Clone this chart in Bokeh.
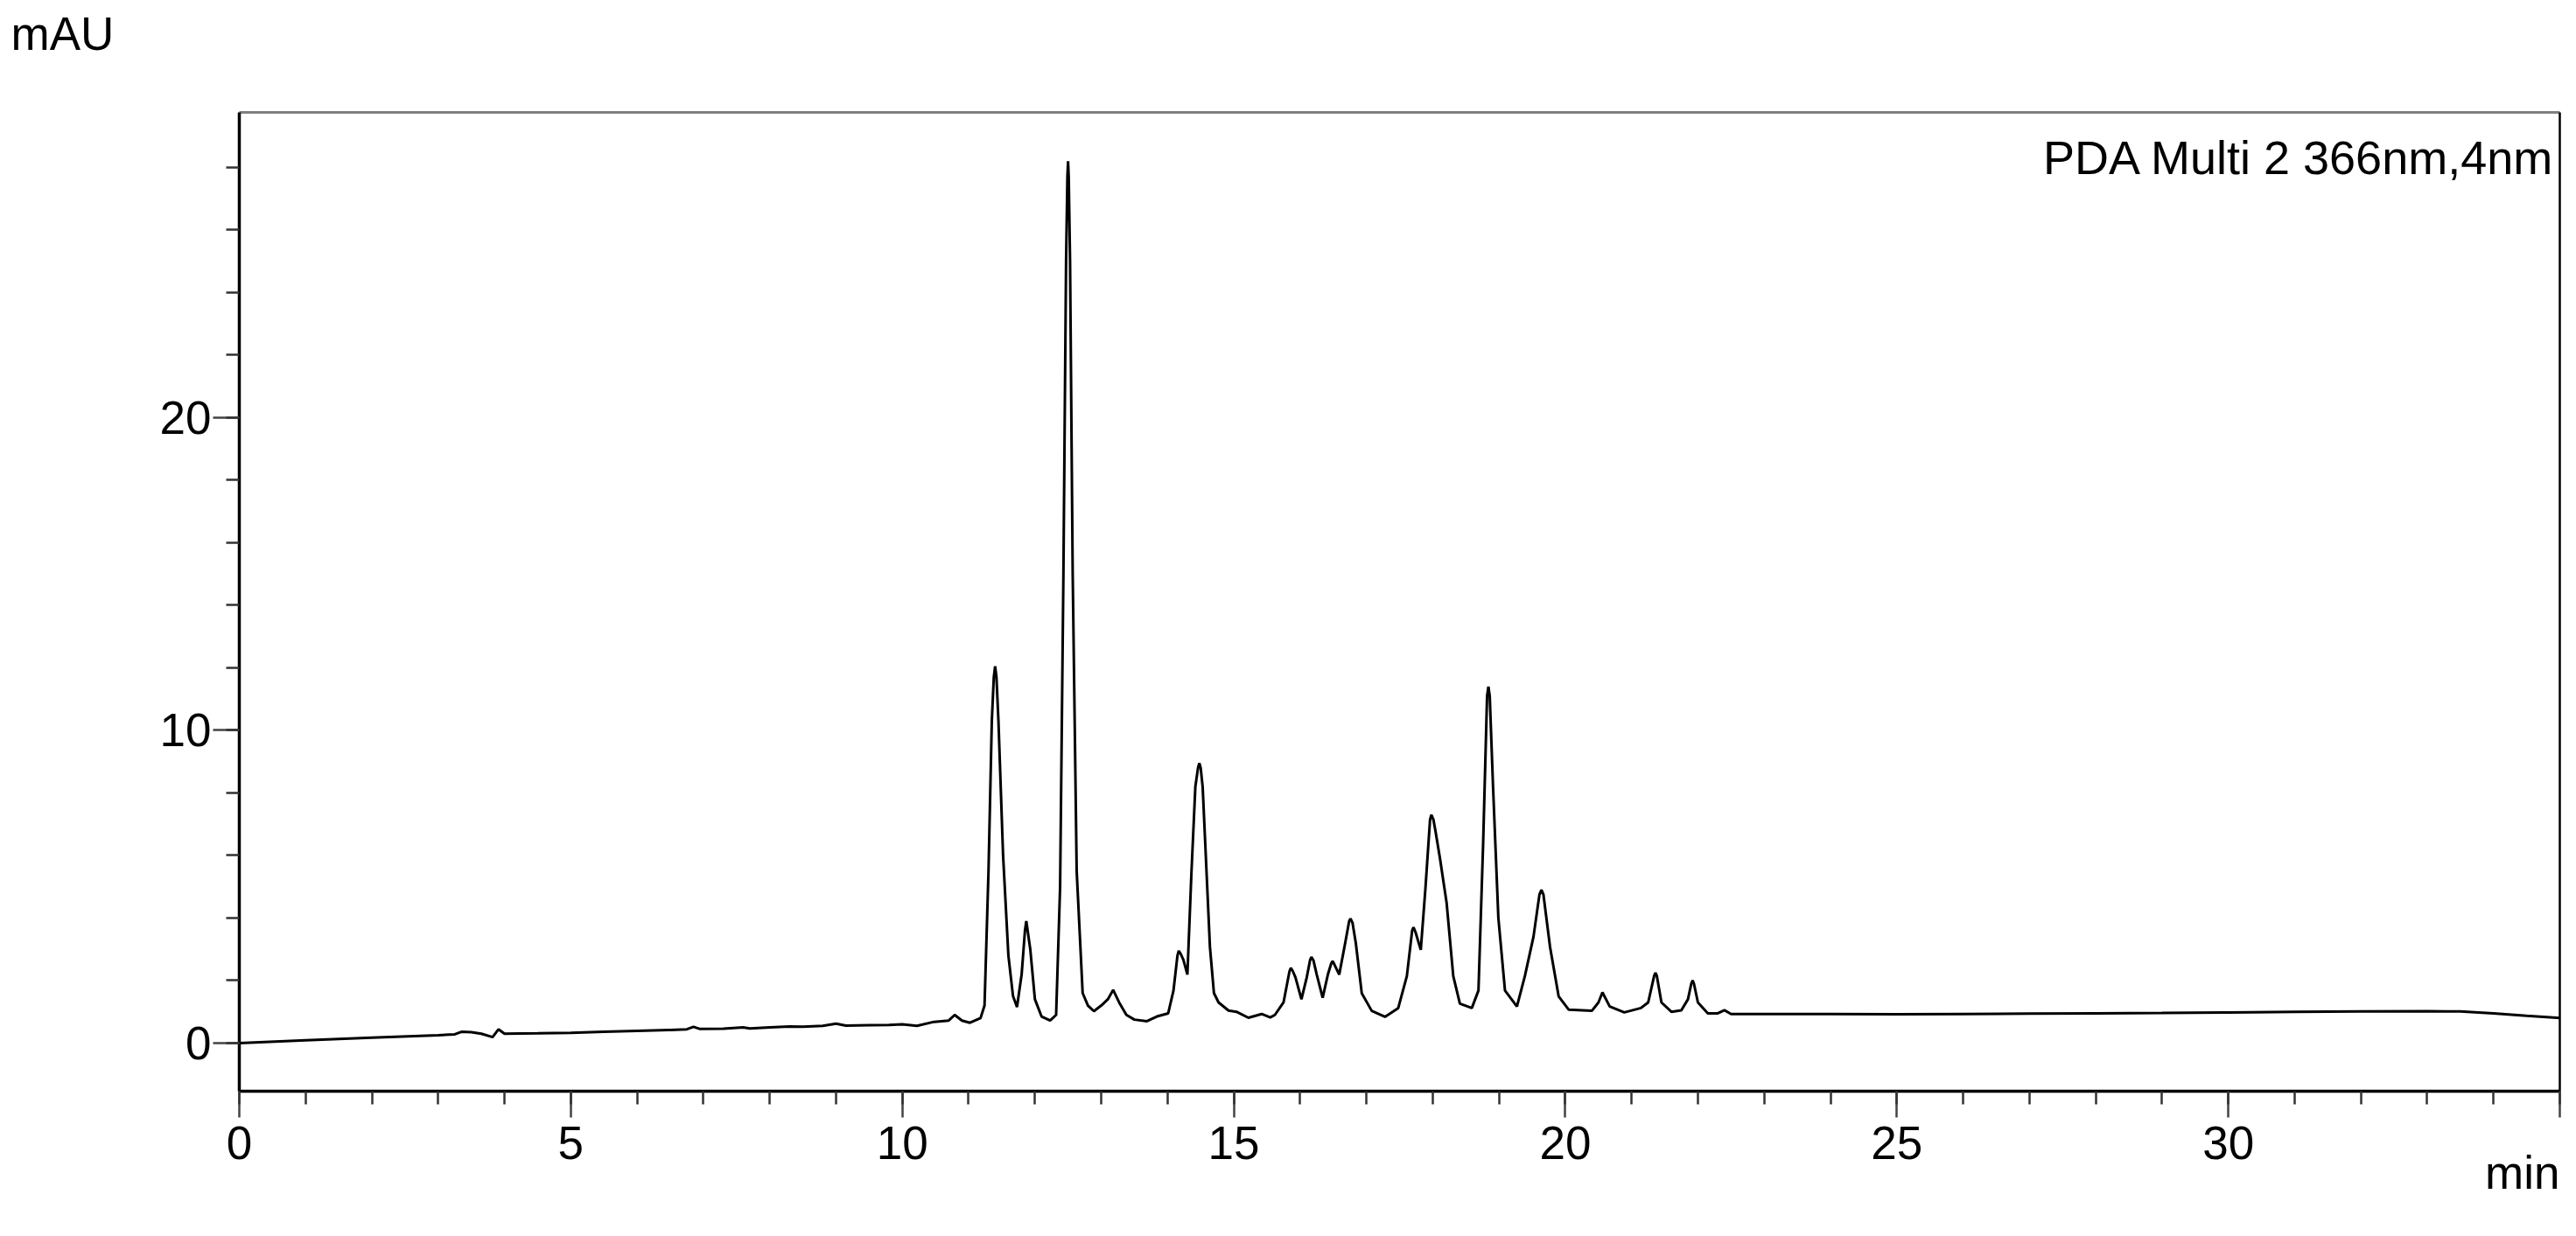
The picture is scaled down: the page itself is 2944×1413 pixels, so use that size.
from bokeh.plotting import figure
from bokeh.models import Label, LinearAxis, FixedTicker, Range1d, Title
from bokeh.embed import file_html
from bokeh.resources import INLINE

# digitized chromatogram (time in min, absorbance in mAU)
time_min = [
    0.0, 1.0, 2.0, 3.0, 3.25, 3.35, 3.5, 3.65, 3.82, 3.91, 4.0, 4.5, 5.0, 5.5, 6.0, 6.5,
    6.75, 6.85, 6.95, 7.3, 7.6, 7.7, 8.0, 8.3, 8.5, 8.8, 9.0, 9.15, 9.5, 9.8, 10.0,
    10.22, 10.48, 10.7, 10.79, 10.9, 11.02, 11.18, 11.24, 11.3, 11.35, 11.38, 11.40, 11.42,
    11.45, 11.52, 11.6, 11.67, 11.73, 11.8, 11.85, 11.87, 11.89, 11.93, 12.0, 12.1, 12.23,
    12.32, 12.38, 12.43, 12.47, 12.49, 12.50, 12.51, 12.53, 12.57, 12.63, 12.72, 12.8,
    12.89, 13.0, 13.1, 13.18, 13.27, 13.38, 13.5, 13.69, 13.84, 14.01, 14.09, 14.15,
    14.17, 14.20, 14.24, 14.30, 14.36, 14.42, 14.46, 14.48, 14.50, 14.53, 14.57, 14.64,
    14.70, 14.77, 14.92, 15.04, 15.22, 15.42, 15.55, 15.62, 15.75, 15.84, 15.86, 15.89,
    15.93, 16.02, 16.10, 16.15, 16.17, 16.20, 16.25, 16.34, 16.42, 16.47, 16.49, 16.52,
    16.59, 16.68, 16.74, 16.76, 16.79, 16.84, 16.93, 17.08, 17.28, 17.48, 17.61, 17.69,
    17.71, 17.74, 17.82, 17.89, 17.96, 17.98, 18.01, 18.04, 18.11, 18.21, 18.31, 18.41,
    18.59, 18.69, 18.76, 18.82, 18.84, 18.86, 18.91, 18.99, 19.09, 19.27, 19.39, 19.52,
    19.61, 19.64, 19.67, 19.77, 19.90, 20.05, 20.40, 20.50, 20.56, 20.67, 20.89, 21.14,
    21.25, 21.34, 21.36, 21.38, 21.45, 21.6, 21.75, 21.85, 21.90, 21.92, 21.94, 22.0,
    22.15, 22.3, 22.4, 22.5, 23.0, 24.0, 25.0, 26.0, 27.0, 28.0, 29.0, 30.0, 31.0, 32.0,
    33.0, 33.5, 34.0, 34.5, 35.0,
]
absorbance_mau = [
    0.00, 0.09, 0.17, 0.25, 0.28, 0.36, 0.35, 0.30, 0.19, 0.44, 0.30, 0.31, 0.33, 0.36, 0.39, 0.42,
    0.44, 0.52, 0.45, 0.46, 0.50, 0.47, 0.50, 0.53, 0.52, 0.55, 0.62, 0.56, 0.57, 0.58, 0.60,
    0.55, 0.68, 0.72, 0.90, 0.72, 0.65, 0.80, 1.2, 5.5, 10.3, 11.7, 12.05, 11.7,
    10.3, 6.0, 2.8, 1.5, 1.15, 2.2, 3.6, 3.9, 3.6, 3.0, 1.4, 0.85, 0.72,
    0.9, 5.0, 15.0, 25.0, 27.7, 28.2, 27.7, 25.0, 15.0, 5.5, 1.6, 1.2,
    1.02, 1.2, 1.4, 1.70, 1.3, 0.9, 0.75, 0.70, 0.85, 0.95, 1.68, 2.80,
    2.95, 2.85, 2.66, 2.19, 5.41, 8.2, 8.8, 8.95, 8.8, 8.2, 6.34, 3.07,
    1.6, 1.30, 1.04, 1.0, 0.81, 0.93, 0.82, 0.90, 1.30, 2.30, 2.40, 2.30,
    2.1, 1.40, 2.1, 2.65, 2.75, 2.65, 2.2, 1.45, 2.2, 2.55, 2.62, 2.50,
    2.19, 3.2, 3.90, 3.98, 3.85, 3.2, 1.59, 1.03, 0.84, 1.12, 2.14, 3.60,
    3.70, 3.55, 2.98, 4.94, 7.15, 7.30, 7.15, 6.8, 5.9, 4.48, 2.14, 1.26,
    1.12, 1.68, 6.34, 11.1, 11.4, 11.1, 8.20, 4.01, 1.68, 1.17, 2.14, 3.40,
    4.75, 4.90, 4.75, 3.07, 1.49, 1.07, 1.03, 1.30, 1.62, 1.17, 0.98, 1.12,
    1.30, 2.15, 2.25, 2.15, 1.3, 1.0, 1.05, 1.4, 1.9, 2.0, 1.9, 1.3,
    0.95, 0.95, 1.05, 0.93, 0.93, 0.93, 0.92, 0.93, 0.94, 0.95, 0.96, 0.98, 1.00, 1.01,
    1.02, 1.01, 0.95, 0.87, 0.80,
]

x_major_ticks = [0, 5, 10, 15, 20, 25, 30, 35]
x_minor_ticks = list(range(0, 36))
y_major_ticks = [0, 10, 20]
y_minor_ticks = list(range(0, 30, 2))

FONT = "Liberation Sans"
FS = "53px"

p = figure(
    frame_width=2652, frame_height=1119,
    min_border_left=273, min_border_top=128, min_border_right=11, min_border_bottom=166,
    x_range=Range1d(0, 35), y_range=Range1d(-1.54, 29.76),
    output_backend="svg", toolbar_location=None,
    x_axis_location=None, y_axis_location=None,
)
p.outline_line_color = None
p.xgrid.visible = False
p.ygrid.visible = False
p.background_fill_color = "white"
p.border_fill_color = "white"

p.line(time_min, absorbance_mau, line_color="black", line_width=3)

# bottom axis
xa = LinearAxis(ticker=FixedTicker(ticks=x_major_ticks, minor_ticks=x_minor_ticks))
xa.major_label_overrides = {35: ""}
# left axis
ya = LinearAxis(ticker=FixedTicker(ticks=y_major_ticks, minor_ticks=y_minor_ticks))
for ax in (xa, ya):
    ax.axis_line_color = "black"
    ax.axis_line_width = 3.5
    ax.major_tick_line_color = "#444444"
    ax.major_tick_line_width = 2.5
    ax.minor_tick_line_color = "#333333"
    ax.minor_tick_line_width = 2.5
    ax.major_tick_in = 0
    ax.minor_tick_in = 0
    ax.major_tick_out = 30
    ax.minor_tick_out = 15
    ax.major_label_text_font = FONT
    ax.major_label_text_font_size = FS
    ax.major_label_text_color = "black"
xa.major_label_standoff = 10
ya.major_label_standoff = 2
p.add_layout(xa, "below")
p.add_layout(ya, "left")

# frame top (gray) and right (black)
top = LinearAxis(ticker=FixedTicker(ticks=[]), major_label_text_font_size="0px",
                 axis_line_color="#808080", axis_line_width=3,
                 major_tick_line_color=None, minor_tick_line_color=None)
right = LinearAxis(ticker=FixedTicker(ticks=[]), major_label_text_font_size="0px",
                   axis_line_color="black", axis_line_width=2.5,
                   major_tick_line_color=None, minor_tick_line_color=None)
p.add_layout(top, "above")
p.add_layout(right, "right")

# unit labels outside the frame
p.add_layout(Title(text="mAU\n ", align="left", offset=-261, standoff=0,
                   vertical_align="top",
                   text_font=FONT, text_font_size=FS, text_font_style="normal",
                   text_color="black"), "above")
p.add_layout(Title(text="min", align="right", offset=0, standoff=-34,
                   vertical_align="top",
                   text_font=FONT, text_font_size=FS, text_font_style="normal",
                   text_color="black"), "below")

p.add_layout(Label(x=34.93, y=28.33, text="PDA Multi 2 366nm,4nm", text_font=FONT,
                   text_font_size="54px", text_align="right", text_baseline="alphabetic",
                   text_color="black"))

open("out.html", "w").write(file_html(p, INLINE))
